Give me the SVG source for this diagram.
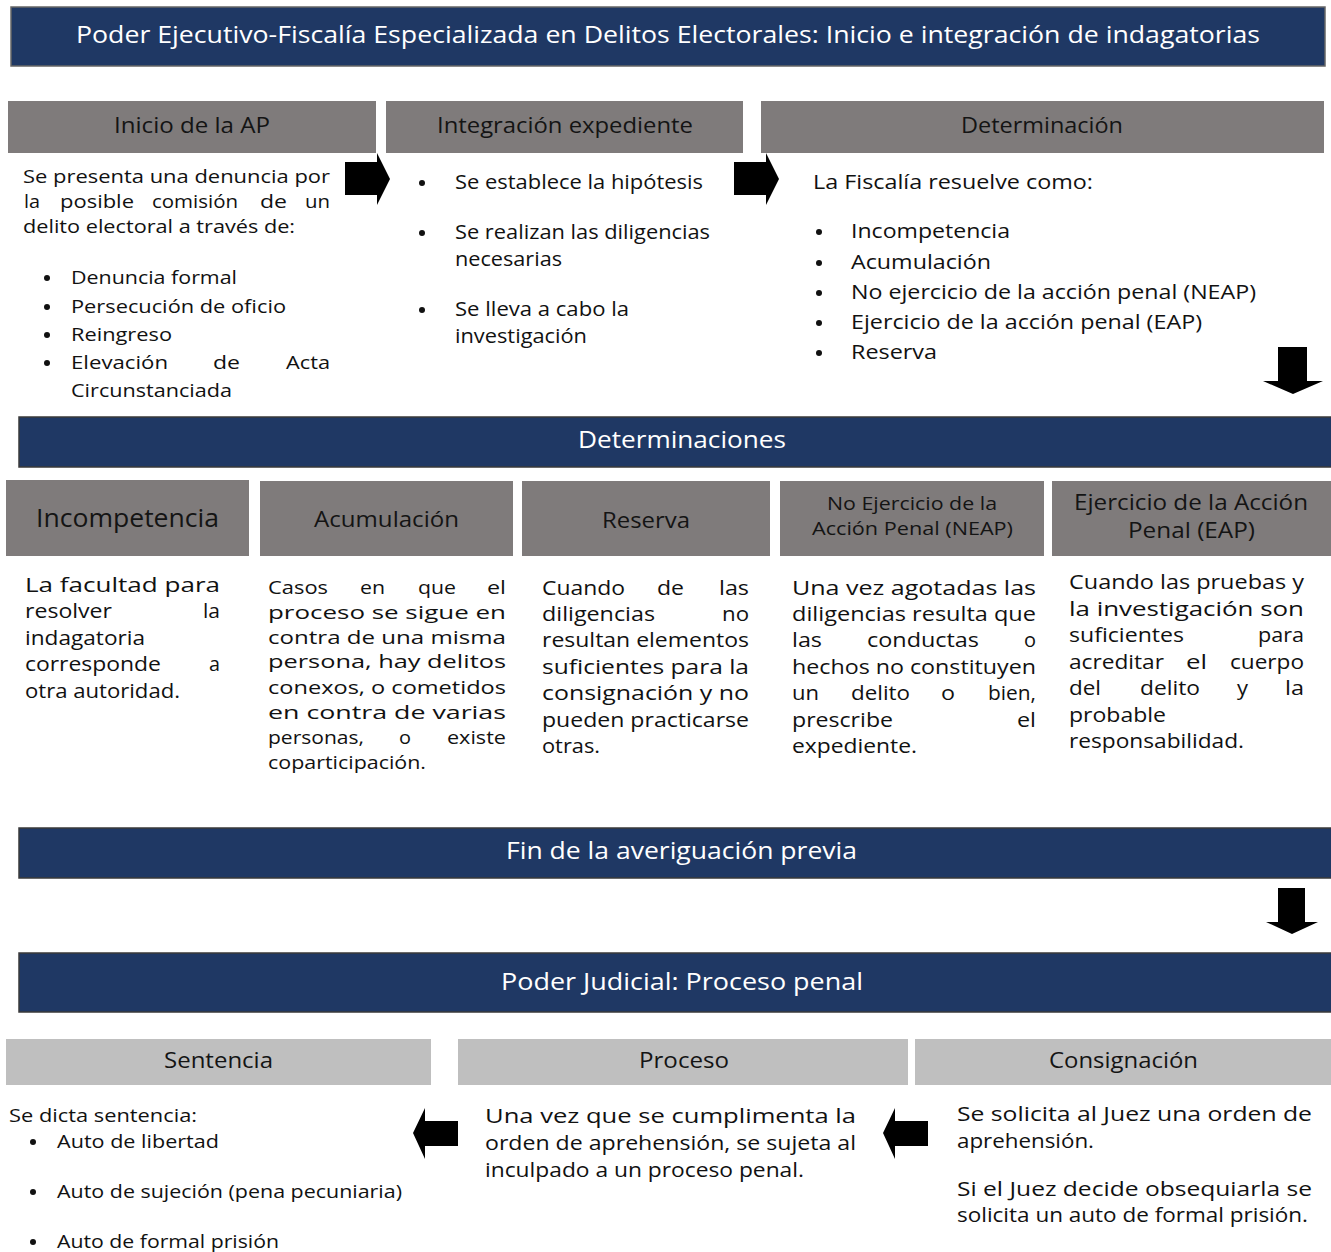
<svg xmlns="http://www.w3.org/2000/svg" width="1331" height="1252" viewBox="0 0 1331 1252">
<style>
.ban{fill:#1f3864;stroke:#3a3a3a;stroke-width:1.5}
.hd{fill:#7f7b7b}
.lh{fill:#bfbfbf}
.bt{font-family:"Open Sans","Liberation Sans",sans-serif;fill:#ffffff}
.ht{font-family:"Open Sans","Liberation Sans",sans-serif;fill:#141414}
.t{font-family:"Open Sans","Liberation Sans",sans-serif;fill:#111111;font-size:20px}
.s{font-size:19px}
.arr{fill:#000000}
.bul{fill:#111111}
</style>
<rect width="1331" height="1252" fill="#ffffff"/>

<g id="banner-ejecutivo">
<rect class="ban" x="11" y="7" width="1314" height="59" style="stroke:#666"/>
<text class="bt" x="76" y="43" font-size="24" textLength="1184" lengthAdjust="spacingAndGlyphs">Poder Ejecutivo-Fiscalía Especializada en Delitos Electorales: Inicio e integración de indagatorias</text>
</g>

<g id="inicio-ap">
<rect class="hd" x="8" y="101" width="368" height="52"/>
<text class="ht" x="114" y="133" font-size="22" textLength="156" lengthAdjust="spacingAndGlyphs">Inicio de la AP</text>
<text class="t s" x="23" y="183" textLength="307" lengthAdjust="spacingAndGlyphs">Se presenta una denuncia por</text>
<text class="t s" x="24" y="208" textLength="16" lengthAdjust="spacingAndGlyphs">la</text><text class="t s" x="60" y="208" textLength="74" lengthAdjust="spacingAndGlyphs">posible</text><text class="t s" x="152" y="208" textLength="86" lengthAdjust="spacingAndGlyphs">comisión</text><text class="t s" x="260" y="208" textLength="27" lengthAdjust="spacingAndGlyphs">de</text><text class="t s" x="305" y="208" textLength="25" lengthAdjust="spacingAndGlyphs">un</text>
<text class="t s" x="23" y="233" textLength="272" lengthAdjust="spacingAndGlyphs">delito electoral a través de:</text>
<circle class="bul" cx="47" cy="278" r="3"/><text class="t s" x="71" y="284" textLength="166" lengthAdjust="spacingAndGlyphs">Denuncia formal</text>
<circle class="bul" cx="47" cy="307" r="3"/><text class="t s" x="71" y="313" textLength="215" lengthAdjust="spacingAndGlyphs">Persecución de oficio</text>
<circle class="bul" cx="47" cy="335" r="3"/><text class="t s" x="71" y="341" textLength="101" lengthAdjust="spacingAndGlyphs">Reingreso</text>
<circle class="bul" cx="47" cy="363" r="3"/><text class="t s" x="71" y="369" textLength="97" lengthAdjust="spacingAndGlyphs">Elevación</text><text class="t s" x="213" y="369" textLength="27" lengthAdjust="spacingAndGlyphs">de</text><text class="t s" x="286" y="369" textLength="44" lengthAdjust="spacingAndGlyphs">Acta</text>
<text class="t s" x="71" y="397" textLength="161" lengthAdjust="spacingAndGlyphs">Circunstanciada</text>
</g>

<g id="integracion-expediente">
<rect class="hd" x="386" y="101" width="357" height="52"/>
<text class="ht" x="437" y="133" font-size="22" textLength="256" lengthAdjust="spacingAndGlyphs">Integración expediente</text>
<circle class="bul" cx="422" cy="183" r="3"/><text class="t" x="455" y="189" textLength="248" lengthAdjust="spacingAndGlyphs">Se establece la hipótesis</text>
<circle class="bul" cx="422" cy="233" r="3"/><text class="t" x="455" y="239" textLength="255" lengthAdjust="spacingAndGlyphs">Se realizan las diligencias</text>
<text class="t" x="455" y="266" textLength="107" lengthAdjust="spacingAndGlyphs">necesarias</text>
<circle class="bul" cx="422" cy="310" r="3"/><text class="t" x="455" y="316" textLength="174" lengthAdjust="spacingAndGlyphs">Se lleva a cabo la</text>
<text class="t" x="455" y="343" textLength="132" lengthAdjust="spacingAndGlyphs">investigación</text>
</g>

<g id="determinacion">
<rect class="hd" x="761" y="101" width="563" height="52"/>
<text class="ht" x="961" y="133" font-size="22" textLength="162" lengthAdjust="spacingAndGlyphs">Determinación</text>
<text class="t" x="813" y="189" textLength="280" lengthAdjust="spacingAndGlyphs">La Fiscalía resuelve como:</text>
<circle class="bul" cx="819" cy="232" r="3"/><text class="t" x="851" y="238" textLength="159" lengthAdjust="spacingAndGlyphs">Incompetencia</text>
<circle class="bul" cx="819" cy="263" r="3"/><text class="t" x="851" y="269" textLength="140" lengthAdjust="spacingAndGlyphs">Acumulación</text>
<circle class="bul" cx="819" cy="293" r="3"/><text class="t" x="851" y="299" textLength="405" lengthAdjust="spacingAndGlyphs">No ejercicio de la acción penal (NEAP)</text>
<circle class="bul" cx="819" cy="323" r="3"/><text class="t" x="851" y="329" textLength="351" lengthAdjust="spacingAndGlyphs">Ejercicio de la acción penal (EAP)</text>
<circle class="bul" cx="819" cy="353" r="3"/><text class="t" x="851" y="359" textLength="86" lengthAdjust="spacingAndGlyphs">Reserva</text>
</g>

<g id="banner-determinaciones">
<rect class="ban" x="19" y="417" width="1313" height="50"/>
<text class="bt" x="578" y="448" font-size="24" textLength="208" lengthAdjust="spacingAndGlyphs">Determinaciones</text>
</g>

<g id="incompetencia">
<rect class="hd" x="6" y="480" width="243" height="76"/>
<text class="ht" x="36" y="527" font-size="25" textLength="183" lengthAdjust="spacingAndGlyphs">Incompetencia</text>
<text class="t" x="25" y="592" textLength="195" lengthAdjust="spacingAndGlyphs">La facultad para</text>
<text class="t" x="25" y="618" textLength="87" lengthAdjust="spacingAndGlyphs">resolver</text><text class="t" x="203" y="618" textLength="17" lengthAdjust="spacingAndGlyphs">la</text>
<text class="t" x="25" y="645" textLength="120" lengthAdjust="spacingAndGlyphs">indagatoria</text>
<text class="t" x="25" y="671" textLength="136" lengthAdjust="spacingAndGlyphs">corresponde</text><text class="t" x="209" y="671" textLength="11" lengthAdjust="spacingAndGlyphs">a</text>
<text class="t" x="25" y="698" textLength="155" lengthAdjust="spacingAndGlyphs">otra autoridad.</text>
</g>

<g id="acumulacion">
<rect class="hd" x="260" y="481" width="253" height="75"/>
<text class="ht" x="314" y="527" font-size="22" textLength="145" lengthAdjust="spacingAndGlyphs">Acumulación</text>
<text class="t s" x="268" y="594" textLength="60" lengthAdjust="spacingAndGlyphs">Casos</text><text class="t s" x="360" y="594" textLength="25" lengthAdjust="spacingAndGlyphs">en</text><text class="t s" x="418" y="594" textLength="38" lengthAdjust="spacingAndGlyphs">que</text><text class="t s" x="487" y="594" textLength="19" lengthAdjust="spacingAndGlyphs">el</text>
<text class="t s" x="268" y="619" textLength="238" lengthAdjust="spacingAndGlyphs">proceso se sigue en</text>
<text class="t s" x="268" y="644" textLength="238" lengthAdjust="spacingAndGlyphs">contra de una misma</text>
<text class="t s" x="268" y="668" textLength="238" lengthAdjust="spacingAndGlyphs">persona, hay delitos</text>
<text class="t s" x="268" y="694" textLength="238" lengthAdjust="spacingAndGlyphs">conexos, o cometidos</text>
<text class="t s" x="268" y="719" textLength="238" lengthAdjust="spacingAndGlyphs">en contra de varias</text>
<text class="t s" x="268" y="744" textLength="96" lengthAdjust="spacingAndGlyphs">personas,</text><text class="t s" x="399" y="744" textLength="12" lengthAdjust="spacingAndGlyphs">o</text><text class="t s" x="447" y="744" textLength="59" lengthAdjust="spacingAndGlyphs">existe</text>
<text class="t s" x="268" y="769" textLength="158" lengthAdjust="spacingAndGlyphs">coparticipación.</text>
</g>

<g id="reserva">
<rect class="hd" x="522" y="481" width="248" height="75"/>
<text class="ht" x="602" y="528" font-size="22" textLength="88" lengthAdjust="spacingAndGlyphs">Reserva</text>
<text class="t" x="542" y="595" textLength="83" lengthAdjust="spacingAndGlyphs">Cuando</text><text class="t" x="657" y="595" textLength="27" lengthAdjust="spacingAndGlyphs">de</text><text class="t" x="719" y="595" textLength="30" lengthAdjust="spacingAndGlyphs">las</text>
<text class="t" x="542" y="621" textLength="113" lengthAdjust="spacingAndGlyphs">diligencias</text><text class="t" x="722" y="621" textLength="27" lengthAdjust="spacingAndGlyphs">no</text>
<text class="t" x="542" y="647" textLength="207" lengthAdjust="spacingAndGlyphs">resultan elementos</text>
<text class="t" x="542" y="674" textLength="207" lengthAdjust="spacingAndGlyphs">suficientes para la</text>
<text class="t" x="542" y="700" textLength="207" lengthAdjust="spacingAndGlyphs">consignación y no</text>
<text class="t" x="542" y="727" textLength="207" lengthAdjust="spacingAndGlyphs">pueden practicarse</text>
<text class="t" x="542" y="753" textLength="58" lengthAdjust="spacingAndGlyphs">otras.</text>
</g>

<g id="neap">
<rect class="hd" x="780" y="481" width="264" height="75"/>
<text class="ht" x="827" y="510" font-size="19" textLength="170" lengthAdjust="spacingAndGlyphs">No Ejercicio de la</text>
<text class="ht" x="812" y="535" font-size="19" textLength="201" lengthAdjust="spacingAndGlyphs">Acción Penal (NEAP)</text>
<text class="t" x="792" y="595" textLength="244" lengthAdjust="spacingAndGlyphs">Una vez agotadas las</text>
<text class="t" x="792" y="621" textLength="244" lengthAdjust="spacingAndGlyphs">diligencias resulta que</text>
<text class="t" x="792" y="647" textLength="30" lengthAdjust="spacingAndGlyphs">las</text><text class="t" x="867" y="647" textLength="112" lengthAdjust="spacingAndGlyphs">conductas</text><text class="t" x="1024" y="647" textLength="12" lengthAdjust="spacingAndGlyphs">o</text>
<text class="t" x="792" y="674" textLength="244" lengthAdjust="spacingAndGlyphs">hechos no constituyen</text>
<text class="t" x="792" y="700" textLength="27" lengthAdjust="spacingAndGlyphs">un</text><text class="t" x="851" y="700" textLength="59" lengthAdjust="spacingAndGlyphs">delito</text><text class="t" x="941" y="700" textLength="14" lengthAdjust="spacingAndGlyphs">o</text><text class="t" x="988" y="700" textLength="48" lengthAdjust="spacingAndGlyphs">bien,</text>
<text class="t" x="792" y="727" textLength="101" lengthAdjust="spacingAndGlyphs">prescribe</text><text class="t" x="1017" y="727" textLength="19" lengthAdjust="spacingAndGlyphs">el</text>
<text class="t" x="792" y="753" textLength="125" lengthAdjust="spacingAndGlyphs">expediente.</text>
</g>

<g id="eap">
<rect class="hd" x="1052" y="481" width="279" height="75"/>
<text class="ht" x="1074" y="510" font-size="21" textLength="234" lengthAdjust="spacingAndGlyphs">Ejercicio de la Acción</text>
<text class="ht" x="1128" y="538" font-size="21" textLength="127" lengthAdjust="spacingAndGlyphs">Penal (EAP)</text>
<text class="t" x="1069" y="589" textLength="235" lengthAdjust="spacingAndGlyphs">Cuando las pruebas y</text>
<text class="t" x="1069" y="616" textLength="235" lengthAdjust="spacingAndGlyphs">la investigación son</text>
<text class="t" x="1069" y="642" textLength="115" lengthAdjust="spacingAndGlyphs">suficientes</text><text class="t" x="1258" y="642" textLength="46" lengthAdjust="spacingAndGlyphs">para</text>
<text class="t" x="1069" y="669" textLength="95" lengthAdjust="spacingAndGlyphs">acreditar</text><text class="t" x="1186" y="669" textLength="21" lengthAdjust="spacingAndGlyphs">el</text><text class="t" x="1230" y="669" textLength="74" lengthAdjust="spacingAndGlyphs">cuerpo</text>
<text class="t" x="1069" y="695" textLength="32" lengthAdjust="spacingAndGlyphs">del</text><text class="t" x="1140" y="695" textLength="60" lengthAdjust="spacingAndGlyphs">delito</text><text class="t" x="1237" y="695" textLength="11" lengthAdjust="spacingAndGlyphs">y</text><text class="t" x="1285" y="695" textLength="19" lengthAdjust="spacingAndGlyphs">la</text>
<text class="t" x="1069" y="722" textLength="97" lengthAdjust="spacingAndGlyphs">probable</text>
<text class="t" x="1069" y="748" textLength="175" lengthAdjust="spacingAndGlyphs">responsabilidad.</text>
</g>

<g id="banner-fin">
<rect class="ban" x="19" y="828" width="1313" height="50"/>
<text class="bt" x="506" y="859" font-size="24" textLength="351" lengthAdjust="spacingAndGlyphs">Fin de la averiguación previa</text>
</g>

<g id="banner-judicial">
<rect class="ban" x="19" y="953" width="1313" height="59"/>
<text class="bt" x="501" y="990" font-size="24" textLength="362" lengthAdjust="spacingAndGlyphs">Poder Judicial: Proceso penal</text>
</g>

<g id="sentencia">
<rect class="lh" x="6" y="1039" width="425" height="46"/>
<text class="ht" x="164" y="1068" font-size="22" textLength="109" lengthAdjust="spacingAndGlyphs">Sentencia</text>
<text class="t s" x="9" y="1122" textLength="188" lengthAdjust="spacingAndGlyphs">Se dicta sentencia:</text>
<circle class="bul" cx="33" cy="1142" r="3"/><text class="t s" x="57" y="1148" textLength="162" lengthAdjust="spacingAndGlyphs">Auto de libertad</text>
<circle class="bul" cx="33" cy="1192" r="3"/><text class="t s" x="57" y="1198" textLength="345" lengthAdjust="spacingAndGlyphs">Auto de sujeción (pena pecuniaria)</text>
<circle class="bul" cx="33" cy="1242" r="3"/><text class="t s" x="57" y="1248" textLength="222" lengthAdjust="spacingAndGlyphs">Auto de formal prisión</text>
</g>

<g id="proceso">
<rect class="lh" x="458" y="1039" width="450" height="46"/>
<text class="ht" x="639" y="1068" font-size="22" textLength="90" lengthAdjust="spacingAndGlyphs">Proceso</text>
<text class="t" x="485" y="1123" textLength="371" lengthAdjust="spacingAndGlyphs">Una vez que se cumplimenta la</text>
<text class="t" x="485" y="1150" textLength="371" lengthAdjust="spacingAndGlyphs">orden de aprehensión, se sujeta al</text>
<text class="t" x="485" y="1177" textLength="319" lengthAdjust="spacingAndGlyphs">inculpado a un proceso penal.</text>
</g>

<g id="consignacion">
<rect class="lh" x="915" y="1039" width="416" height="46"/>
<text class="ht" x="1049" y="1068" font-size="22" textLength="149" lengthAdjust="spacingAndGlyphs">Consignación</text>
<text class="t" x="957" y="1121" textLength="355" lengthAdjust="spacingAndGlyphs">Se solicita al Juez una orden de</text>
<text class="t" x="957" y="1148" textLength="137" lengthAdjust="spacingAndGlyphs">aprehensión.</text>
<text class="t" x="957" y="1196" textLength="355" lengthAdjust="spacingAndGlyphs">Si el Juez decide obsequiarla se</text>
<text class="t" x="957" y="1222" textLength="351" lengthAdjust="spacingAndGlyphs">solicita un auto de formal prisión.</text>
</g>

<g id="connectors">
<polygon class="arr" points="345,162 377,162 377,153 390,179 377,205 377,195 345,195"/>
<polygon class="arr" points="734,162 766,162 766,153 779,179 766,205 766,195 734,195"/>
<polygon class="arr" points="1278,347 1307,347 1307,381 1323,381 1293,394 1263,381 1278,381"/>
<polygon class="arr" points="1278,888 1305,888 1305,922 1318,922 1292,934 1266,922 1278,922"/>
<polygon class="arr" points="458,1121 425,1121 425,1108 413,1133 425,1159 425,1146 458,1146"/>
<polygon class="arr" points="928,1121 895,1121 895,1108 883,1133 895,1159 895,1146 928,1146"/>
</g>
</svg>
